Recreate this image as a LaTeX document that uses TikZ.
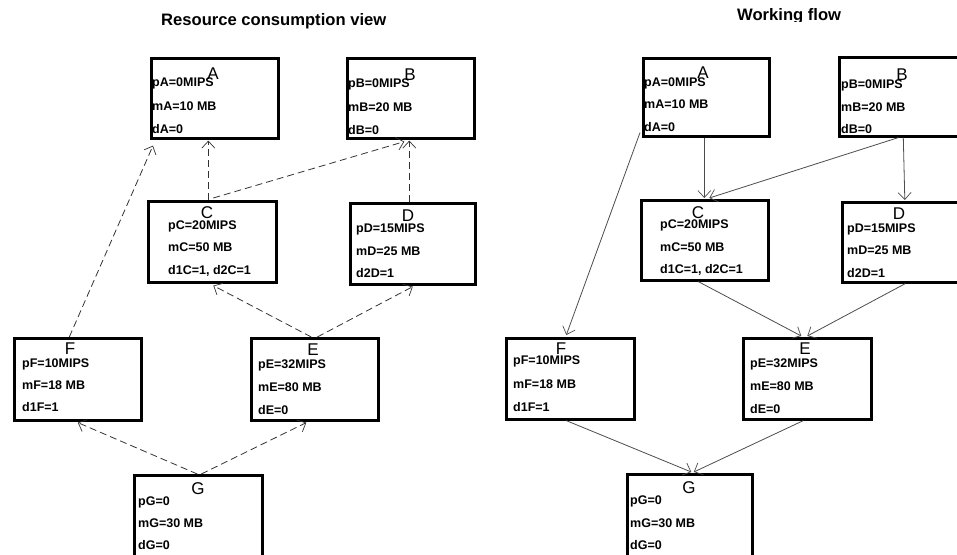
\documentclass[tikz,border=0pt]{standalone}
\usepackage{fontspec}
\setmainfont{Liberation Sans}
\usetikzlibrary{arrows.meta}
\begin{document}
\begin{tikzpicture}[x=1pt,y=-1pt,
  taskbox/.style={draw=black, line width=2.6pt, fill=white, inner sep=0pt, anchor=north west},
  tlabel/.style={font=\fontsize{17}{17}\selectfont, anchor=base, inner sep=0pt, yshift=-6pt},
  trow/.style={font=\bfseries\fontsize{12.5}{12.5}\selectfont, anchor=base west, inner sep=0pt, yshift=-4.5pt},
  ttitle/.style={font=\bfseries\fontsize{16.6}{16.6}\selectfont, anchor=base west, inner sep=0pt},
  tip/.style={-{Straight Barb[length=7pt,width=13pt,line width=0.7pt]}},
  usage/.style={tip, draw=black!80, line width=0.8pt, dash pattern=on 7pt off 4pt},
  flow/.style={tip, draw=black!70, line width=0.8pt}]

\clip (0,0) rectangle (957,554);

% ---------------- titles ----------------
\node[ttitle] (t1) at (161,25) {Resource consumption view};
\begin{scope}
  \clip (700,0) rectangle (900,21);
  \node[ttitle] (t2) at (737,20) {Working flow};
\end{scope}

% ---------------- resource consumption view ----------------
\node[taskbox, minimum width=127pt, minimum height=80pt] (A) at (150,57) {};
\node[tlabel] (Al) at (213,73) {A};
\node[trow] (A1) at (152,82) {pA=0MIPS};
\node[trow] (A2) at (152,106) {mA=10 MB};
\node[trow] (A3) at (152,129) {dA=0};

\node[taskbox, minimum width=127pt, minimum height=80pt] (B) at (346,57) {};
\node[tlabel] (Bl) at (410,74) {B};
\node[trow] (B1) at (348,83) {pB=0MIPS};
\node[trow] (B2) at (348,107) {mB=20 MB};
\node[trow] (B3) at (348,130) {dB=0};

\node[taskbox, minimum width=128pt, minimum height=81pt] (C) at (147,200) {};
\node[tlabel] (Cl) at (207,212) {C};
\node[trow] (C1) at (168,225) {pC=20MIPS};
\node[trow] (C2) at (168,247) {mC=50 MB};
\node[trow] (C3) at (168,270) {d1C=1, d2C=1};

\node[taskbox, minimum width=125pt, minimum height=81pt] (D) at (349,202) {};
\node[tlabel] (Dl) at (408,215) {D};
\node[trow] (D1) at (356,228) {pD=15MIPS};
\node[trow] (D2) at (356,251) {mD=25 MB};
\node[trow] (D3) at (356,273) {d2D=1};

\node[taskbox, minimum width=127pt, minimum height=82pt] (F) at (13,337) {};
\node[tlabel] (Fl) at (70,348) {F};
\node[trow] (F1) at (22,363) {pF=10MIPS};
\node[trow] (F2) at (22,385) {mF=18 MB};
\node[trow] (F3) at (22,407) {d1F=1};

\node[taskbox, minimum width=127pt, minimum height=82pt] (E) at (250,337) {};
\node[tlabel] (El) at (313,349) {E};
\node[trow] (E1) at (258,364) {pE=32MIPS};
\node[trow] (E2) at (258,387) {mE=80 MB};
\node[trow] (E3) at (258,410) {dE=0};

\node[taskbox, minimum width=128pt, minimum height=90pt] (G) at (133,474) {};
\node[tlabel] (Gl) at (198,488) {G};
\node[trow] (G1) at (138,501) {pG=0};
\node[trow] (G2) at (138,523) {mG=30 MB};
\node[trow] (G3) at (138,545) {dG=0};

\draw[usage] ([xshift=-8.5pt]F.north) -- ([xshift=3pt,yshift=-6pt]A.south west);
\draw[usage] ([xshift=-4pt]C.north) -- ([xshift=-6.5pt,yshift=-1pt]A.south);
\draw[usage] ([xshift=1pt,yshift=2pt]C.north) -- ([xshift=-6.5pt,yshift=-2pt]B.south);
\draw[usage] ([xshift=-3.5pt]D.north) -- ([xshift=-1.5pt,yshift=-1pt]B.south);
\draw[usage] ([xshift=-3.5pt]E.north) -- ([xshift=1pt,yshift=-2pt]C.south);
\draw[usage] ([xshift=2.5pt]E.north) -- ([yshift=-1pt]D.south);
\draw[usage] ([xshift=-1pt]G.north) -- ([yshift=-1pt]F.south);
\draw[usage] ([xshift=3pt]G.north) -- ([xshift=-8.5pt,yshift=-1pt]E.south);

% ---------------- working flow ----------------
\node[taskbox, minimum width=126pt, minimum height=78pt] (A') at (642,57) {};
\node[tlabel] (A'l) at (703,72) {A};
\node[trow] (A'1) at (644,82) {pA=0MIPS};
\node[trow] (A'2) at (644,104) {mA=10 MB};
\node[trow] (A'3) at (644,127) {dA=0};

\node[taskbox, minimum width=130pt, minimum height=79pt] (B') at (838,56) {};
\node[tlabel] (B'l) at (902,74) {B};
\node[trow] (B'1) at (841,84) {pB=0MIPS};
\node[trow] (B'2) at (841,107) {mB=20 MB};
\node[trow] (B'3) at (841,129) {dB=0};

\node[taskbox, minimum width=127pt, minimum height=80pt] (C') at (640,199) {};
\node[tlabel] (C'l) at (698,212) {C};
\node[trow] (C'1) at (660,224) {pC=20MIPS};
\node[trow] (C'2) at (660,247) {mC=50 MB};
\node[trow] (C'3) at (660,269) {d1C=1, d2C=1};

\node[taskbox, minimum width=130pt, minimum height=80pt] (D') at (841,201) {};
\node[tlabel] (D'l) at (899,213) {D};
\node[trow] (D'1) at (847,228) {pD=15MIPS};
\node[trow] (D'2) at (847,250) {mD=25 MB};
\node[trow] (D'3) at (847,273) {d2D=1};

\node[taskbox, minimum width=128pt, minimum height=81pt] (F') at (505,337) {};
\node[tlabel] (F'l) at (561,348) {F};
\node[trow] (F'1) at (513,360) {pF=10MIPS};
\node[trow] (F'2) at (513,384) {mF=18 MB};
\node[trow] (F'3) at (513,407) {d1F=1};

\node[taskbox, minimum width=128pt, minimum height=81pt] (E') at (742,337) {};
\node[tlabel] (E'l) at (805,348) {E};
\node[trow] (E'1) at (750,363) {pE=32MIPS};
\node[trow] (E'2) at (750,386) {mE=80 MB};
\node[trow] (E'3) at (750,409) {dE=0};

\node[taskbox, minimum width=125pt, minimum height=90pt] (G') at (626,473) {};
\node[tlabel] (G'l) at (689,487) {G};
\node[trow] (G'1) at (630,500) {pG=0};
\node[trow] (G'2) at (630,523) {mG=30 MB};
\node[trow] (G'3) at (630,545) {dG=0};

\draw[flow] ([xshift=-2pt,yshift=5pt]A'.south west) -- ([xshift=-4pt,yshift=2pt]F'.north);
\draw[flow] ([xshift=-2pt]A'.south) -- ([xshift=-0.5pt,yshift=1pt]C'.north);
\draw[flow] ([xshift=-6pt]B'.south) -- ([xshift=4.5pt,yshift=1pt]C'.north);
\draw[flow] ([xshift=-1pt]B'.south) -- ([xshift=-2.5pt,yshift=1pt]D'.north);
\draw[flow] ([xshift=-6.5pt]C'.south) -- ([xshift=-6pt,yshift=1pt]E'.north);
\draw[flow] ([xshift=-2pt]D'.south) -- ([yshift=1pt]E'.north);
\draw[flow] ([xshift=-4pt]F'.south) -- ([xshift=1.5pt,yshift=1pt]G'.north);
\draw[flow] ([xshift=-4pt]E'.south) -- ([xshift=4pt,yshift=1pt]G'.north);

\end{tikzpicture}
\end{document}
